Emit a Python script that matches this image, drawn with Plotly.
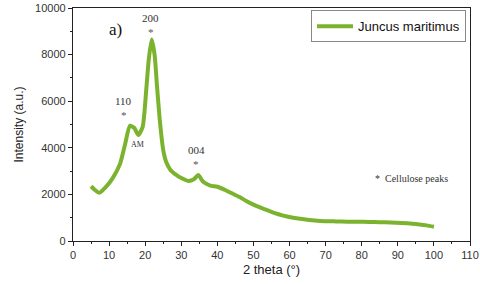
import plotly.graph_objects as go

two_theta = [5, 6, 7.3, 9, 11, 13, 14.5, 15.8, 17, 18.1, 19.3, 20.3, 21, 21.8, 22.6, 23.3, 24.1, 25, 25.8,
             27, 28.5, 30, 32, 33.5, 34.7, 36, 38, 40, 42, 44, 46, 48, 50, 52, 55, 58, 61, 64, 67, 70,
             73, 76, 79, 82, 85, 88, 91, 94, 96, 98, 100]
intensity = [2350, 2200, 2070, 2300, 2700, 3300, 4200, 4950, 4850, 4550, 4900, 6500, 7800, 8650, 8000,
             6600, 5100, 3900, 3400, 3050, 2850, 2700, 2580, 2650, 2830, 2550, 2380, 2330, 2200, 2050,
             1900, 1720, 1560, 1430, 1250, 1100, 1000, 930, 880, 850, 840, 830, 830, 820, 810, 790,
             770, 740, 710, 670, 610]
series_name = "Juncus maritimus"

x_ticks = list(range(0, 111, 10))
y_ticks = list(range(0, 10001, 2000))
y_ticktext = [str(v) for v in y_ticks]

peak_labels = ["110", "200", "004"]
peak_x = [14.0, 21.5, 34.2]
peak_y = [5500, 9050, 3400]
am_x, am_y = [18.0], [4150]

fig = go.Figure()
fig.add_trace(go.Scatter(x=two_theta, y=intensity, mode="lines", name=series_name,
                         line=dict(color="#7bb32e", width=4, shape="spline", smoothing=0.6)))

serif = "Liberation Serif, Times New Roman, serif"
for lab, px, py in zip(peak_labels, peak_x, peak_y):
    fig.add_annotation(x=px, y=py, text=lab, showarrow=False, yshift=12,
                       font=dict(family=serif, size=11, color="#333"))
    fig.add_annotation(x=px, y=py, text="*", showarrow=False, yshift=-2,
                       font=dict(family=serif, size=11, color="#555"))
fig.add_annotation(x=am_x[0], y=am_y[0], text="AM", showarrow=False,
                   font=dict(family=serif, size=8, color="#333"))
fig.add_annotation(x=0.085, y=0.955, xref="paper", yref="paper", text="a)", showarrow=False,
                   font=dict(family=serif, size=17, color="#111"))
fig.add_annotation(x=0.755, y=0.236, xref="paper", yref="paper", xanchor="left",
                   text="*  Cellulose peaks", showarrow=False,
                   font=dict(family=serif, size=10, color="#333"))

sans = "Liberation Sans, Arial, sans-serif"
axis_font = dict(family=sans, size=11, color="#333")
fig.update_layout(
    width=480, height=284, margin=dict(l=73, r=10, t=8, b=43, autoexpand=False),
    paper_bgcolor="white", plot_bgcolor="white",
    showlegend=True,
    legend=dict(x=0.99, y=0.99, xanchor="right", yanchor="top", bordercolor="#888", borderwidth=1,
                bgcolor="white", font=dict(family=sans, size=13, color="#111"),
                itemwidth=36, tracegroupgap=0),
    xaxis=dict(range=[0, 110], tickvals=x_ticks, showgrid=False, zeroline=False, automargin=False,
               showline=True, linecolor="#222", linewidth=1.2, mirror=True, ticks="outside",
               ticklen=4, tickcolor="#222", tickfont=axis_font,
               minor=dict(tickvals=list(range(5, 110, 10)), ticks="outside", ticklen=2, tickcolor="#222"),
               title=dict(text="2 theta (°)", font=dict(family=sans, size=13, color="#222"), standoff=4)),
    yaxis=dict(range=[0, 10000], tickvals=y_ticks, ticktext=y_ticktext, showgrid=False, zeroline=False,
               automargin=False,
               showline=True, linecolor="#222", linewidth=1.2, mirror=True, ticks="outside",
               ticklen=4, tickcolor="#222", tickfont=axis_font,
               minor=dict(tickvals=list(range(1000, 10000, 2000)), ticks="outside", ticklen=2, tickcolor="#222"),
               title=dict(text="Intensity (a.u.)", font=dict(family=sans, size=12, color="#222"), standoff=8)),
)
fig.write_html("out.html", config={"displayModeBar": False},
               post_script="document.body.style.margin='0';document.body.style.overflow='hidden';")
